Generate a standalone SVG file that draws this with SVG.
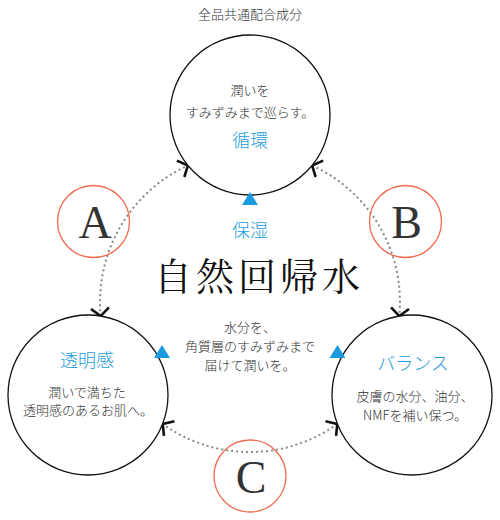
<svg xmlns="http://www.w3.org/2000/svg" width="500" height="520" viewBox="0 0 500 520">
<style>
.node{fill:#fff;stroke:#111;stroke-width:1.3}
.ring{fill:none;stroke:#f26a4d;stroke-width:1.3}
.jp{font-family:"Noto Sans CJK JP","Noto Sans",sans-serif;font-weight:300;fill:#333;font-size:13px;text-anchor:middle}
.blue{font-family:"Noto Sans CJK JP","Noto Sans",sans-serif;font-weight:300;fill:#1d9de0;font-size:18px;text-anchor:middle}
.tri{fill:#1a9be0}
.letter{font-family:"Liberation Serif","Times New Roman",serif;fill:#333;font-size:46px;text-anchor:middle}
.dot{fill:none;stroke:#888;stroke-width:2;stroke-dasharray:2 3;marker-start:url(#ch);marker-end:url(#ch)}
</style>
<defs>
<marker id="ch" viewBox="-14 -14 28 28" markerWidth="28" markerHeight="28" refX="0" refY="0" orient="auto-start-reverse" markerUnits="userSpaceOnUse">
<path d="M-8,-9 L0,0 L-8,9" fill="none" stroke="#111" stroke-width="2.6"/>
</marker>
</defs>
<text class="jp" x="250" y="19">全品共通配合成分</text>
<g id="connectors">
<path class="dot" d="M100.7,316.1 A150,150 0 0 1 187.9,165.5"/>
<path class="dot" d="M312.1,165.5 A150,150 0 0 1 399.3,316.1"/>
<path class="dot" d="M337.3,424 A150,150 0 0 1 162.7,424"/>
</g>
<g id="node-junkan">
<circle class="node" cx="250" cy="115" r="80"/>
<text class="jp" x="250" y="95">潤いを</text>
<text class="jp" x="250" y="117">すみずみまで巡らす。</text>
<text class="blue" x="250" y="147">循環</text>
</g>
<g id="node-toumeikan">
<circle class="node" cx="88" cy="395" r="80"/>
<text class="blue" x="87" y="367">透明感</text>
<text class="jp" x="87" y="397">潤いで満ちた</text>
<text class="jp" x="88" y="415">透明感のあるお肌へ。</text>
</g>
<g id="node-balance">
<circle class="node" cx="412" cy="395" r="80"/>
<text class="blue" x="413" y="370">バランス</text>
<text class="jp" x="415" y="401">皮膚の水分、油分、</text>
<text class="jp" x="415" y="420">NMFを補い保つ。</text>
</g>
<g id="node-A">
<circle class="ring" cx="93.5" cy="221.5" r="36"/>
<text class="letter" x="95" y="238">A</text>
</g>
<g id="node-B">
<circle class="ring" cx="405.5" cy="221.5" r="36"/>
<text class="letter" x="406.5" y="238">B</text>
</g>
<g id="node-C">
<circle class="ring" cx="250" cy="476" r="36"/>
<text class="letter" x="251" y="492.5">C</text>
</g>
<g id="center">
<polygon class="tri" points="250,192 242,205 258,205"/>
<polygon class="tri" points="162,345 154,358 170,358"/>
<polygon class="tri" points="337.5,345 329.5,358 345.5,358"/>
<text class="blue" x="250" y="237">保湿</text>
<text x="154" y="290" style="font-family:'Noto Serif CJK JP','Noto Sans CJK JP',serif;font-size:38px;letter-spacing:4px;fill:#111">自然回帰水</text>
<text class="jp" x="250" y="332">水分を、</text>
<text class="jp" x="250" y="351">角質層のすみずみまで</text>
<text class="jp" x="250" y="370">届けて潤いを。</text>
</g>
</svg>
